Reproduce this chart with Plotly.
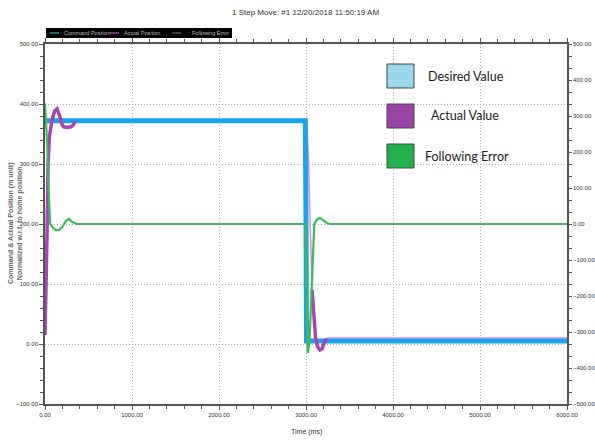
import plotly.graph_objects as go

# ---------------- data ----------------
title_text = "1 Step Move: #1 12/20/2018 11:50:19 AM"
x_tick_vals = [0, 1000, 2000, 3000, 4000, 5000, 6000]

command_t = [0, 2992, 3000, 3006, 6000]
command_v = [372, 372, 200, 5, 5]

actual_t = [0, 8, 15, 23, 28, 35, 50, 80, 110, 138, 165, 195, 215, 250, 300, 330, 345,
            2990, 3010, 3030, 3050, 3070, 3090, 3110, 3135, 3160, 3185, 3210, 3240, 3260, 6000]
actual_v = [15, 60, 120, 180, 230, 300, 345, 373, 388, 392, 382, 366, 362, 361, 362, 366, 371,
            371, 365, 300, 190, 90, 45, 10, -5, -10, -8, 2, 9, 10, 10]

error_t = [0, 15, 30, 40, 50, 60, 90, 120, 160, 200, 240, 275, 310, 365, 2995,
           3005, 3020, 3040, 3060, 3080, 3095, 3125, 3160, 3200, 3240, 3275, 6000]
error_v = [335, 280, 200, 100, 20, 0, -10, -17, -17, -8, 8, 14, 6, 0, 0,
           -200, -358, -330, -200, -60, 0, 12, 17, 10, 3, 0, 0]

legend_top = ["Command Position", "Actual Position", "Following Error"]
legend_big = ["Desired Value", "Actual Value", "Following Error"]

# ---------------- styling ----------------
W, H = 595, 441
# plot area in page pixels: x 45..567, y 44..404
L, R, T, B = 45, 595 - 567, 44, 441 - 404
PW, PH = 522, 360
def px(x): return (x - 45) / PW
def py(y): return (404 - y) / PH

FONT = "Liberation Sans, Arial, sans-serif"
BIGFONT = "Lato, Open Sans, sans-serif"
BLUE = "#1aa3e8"
PURPLE = "#a645b4"
PINK = "#e385e3"
GREEN = "#3dba5c"

fig = go.Figure()

fig.add_trace(go.Scatter(x=actual_t, y=actual_v, mode="lines",
                         line=dict(color=PINK, width=1.5), showlegend=False, hoverinfo="skip"))
fig.add_trace(go.Scatter(x=command_t, y=command_v, mode="lines",
                         line=dict(color=BLUE, width=5), showlegend=False))
i_end1 = actual_t.index(345) + 1
fig.add_trace(go.Scatter(x=actual_t[:i_end1], y=actual_v[:i_end1], mode="lines",
                         line=dict(color=PURPLE, width=3.5), showlegend=False))
i0 = actual_t.index(3070)
i1 = actual_t.index(3240) + 1
fig.add_trace(go.Scatter(x=actual_t[i0:i1], y=actual_v[i0:i1], mode="lines",
                         line=dict(color=PURPLE, width=3.5), showlegend=False))
fig.add_trace(go.Scatter(x=error_t, y=error_v, mode="lines", yaxis="y2",
                         line=dict(color=GREEN, width=2.2), showlegend=False))

axis_common = dict(
    showline=True, linecolor="#555555", linewidth=1.5,
    tickcolor="#555555", tickwidth=1,
    zeroline=False, automargin=False,
)
GRID = dict(showgrid=True, gridcolor="#aaaaaa", griddash="1px,2px", gridwidth=1)
TF = dict(family=FONT, size=6, color="#333333")

fig.update_layout(
    width=W, height=H,
    margin=dict(l=L, r=R, t=T, b=B, autoexpand=False),
    paper_bgcolor="white", plot_bgcolor="white",
    showlegend=False,
    xaxis=dict(range=[0, 6000], tickvals=x_tick_vals, tickformat=".2f",
               mirror="ticks", ticks="outside", ticklen=4, tickfont=TF,
               minor=dict(dtick=200, ticklen=3, tickcolor="#555555", ticks="outside", showgrid=False),
               **GRID, **axis_common),
    yaxis=dict(range=[-100, 500], dtick=100, tickformat=".2f", mirror=False,
               ticks="outside", ticklen=4, tickfont=TF,
               minor=dict(dtick=20, ticklen=3, tickcolor="#555555", ticks="outside", showgrid=False),
               **GRID, **axis_common),
    yaxis2=dict(range=[-500, 500], dtick=100, tickformat=".2f", overlaying="y", side="right",
                showgrid=False, ticks="outside", ticklen=3, tickfont=TF,
                minor=dict(dtick=100 / 3, ticklen=3, tickcolor="#555555", ticks="outside", showgrid=False),
                **axis_common),
)

ann = []
shapes = []
def add_text(text, x, y, size, color, family=FONT, xanchor="center", angle=0):
    ann.append(dict(text=text, x=px(x), y=py(y), xref="paper", yref="paper",
                    xanchor=xanchor, yanchor="middle", textangle=angle, showarrow=False,
                    font=dict(family=family, size=size, color=color)))

add_text(title_text, 305, 12, 8, "#333333")
add_text("<b>Command & Actual Position (m unit)<br>Normalized w.r.t. to home position</b>",
         15, 224, 7, "#666666", angle=-90)
add_text("Time (ms)", 306, 432, 7, "#333333")

# top black legend
shapes.append(dict(type="rect", xref="paper", yref="paper", x0=px(46), x1=px(232),
                   y0=py(38), y1=py(28), fillcolor="black", line=dict(width=0)))
top_cols = ["#1f8f8a", "#9b3aa6", "#555555"]
top_x = [50, 110, 172]
top_tx = [62, 122, 190]
for c, lx, tx, name in zip(top_cols, top_x, top_tx, legend_top):
    shapes.append(dict(type="line", xref="paper", yref="paper", x0=px(lx), x1=px(lx + 9),
                       y0=py(33), y1=py(33), line=dict(color=c, width=1.5)))
    add_text(name, tx, 33, 5.5, "#bbbbbb", xanchor="left")

# big coloured legend overlay
big_cols = ["#9ad8ea", "#9c44a6", "#23b14d"]
big_y = [76, 116, 156]
big_tx = [426, 429, 423]
for c, yc, tx, name in zip(big_cols, big_y, big_tx, legend_big):
    shapes.append(dict(type="rect", xref="paper", yref="paper", x0=px(387), x1=px(414),
                       y0=py(yc + 12), y1=py(yc - 12), fillcolor=c,
                       line=dict(color="#444444", width=1)))
    add_text(name, tx, yc, 12.5, "#222222", family=BIGFONT, xanchor="left")

fig.update_layout(annotations=ann, shapes=shapes)
fig.write_html("out.html", config={"displayModeBar": False},
               post_script="document.body.style.margin='0';")
